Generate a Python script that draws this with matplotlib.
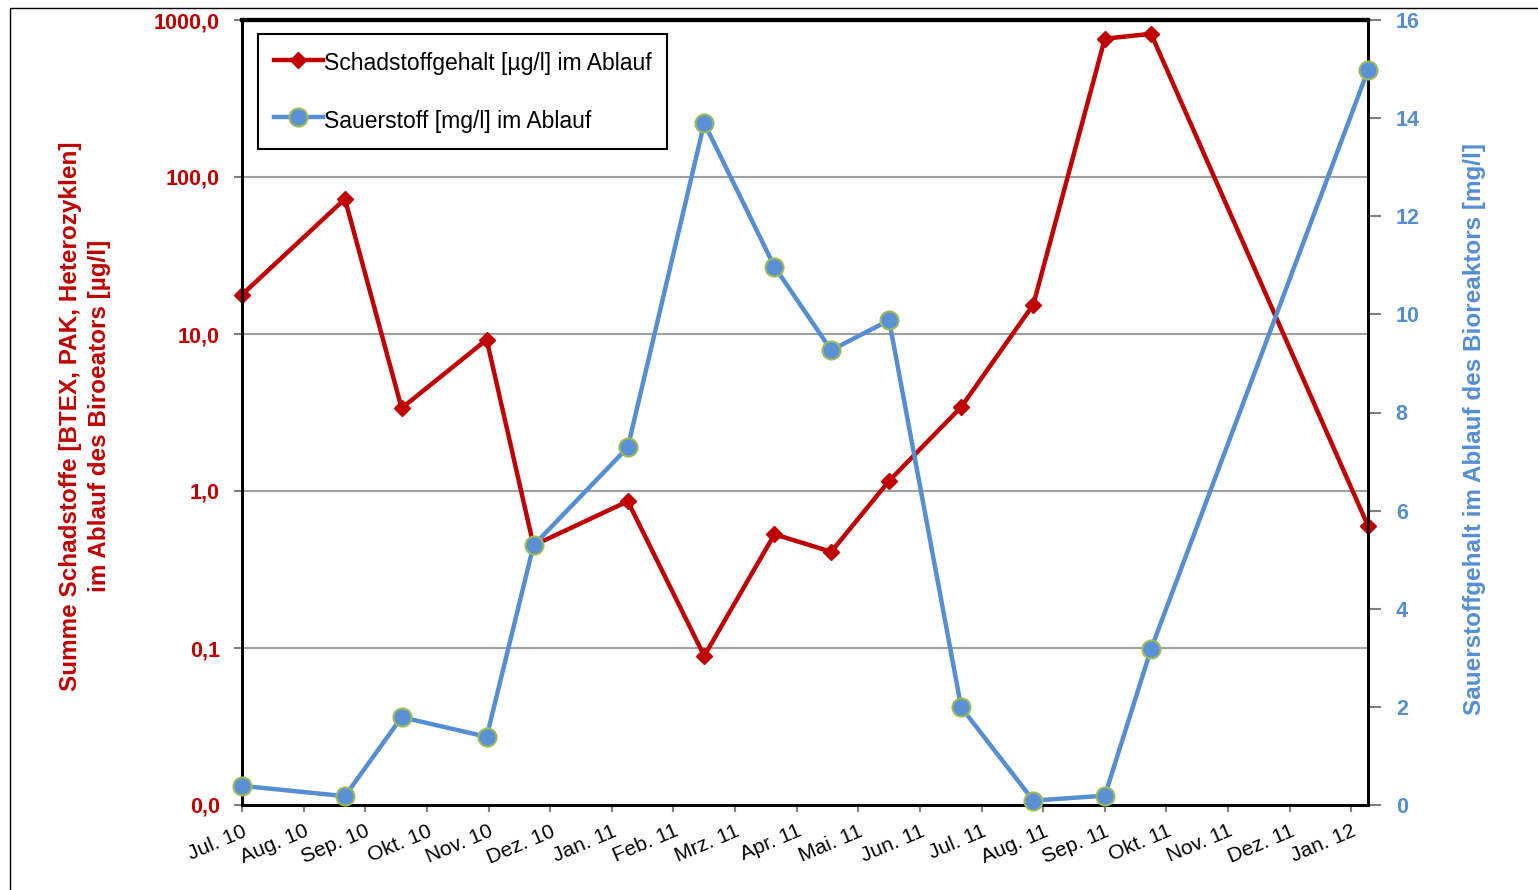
import matplotlib
matplotlib.use('Agg')
import matplotlib.pyplot as plt
from matplotlib.ticker import FixedLocator, NullLocator
from matplotlib.patches import Rectangle

plt.rcParams['font.family'] = ['Liberation Sans', 'DejaVu Sans']

# ---- data ----
# x position in months after Jul. 10 (tick 0 = Jul. 10, tick 18 = Jan. 12)
x_months = [0.0, 1.67, 2.59, 3.97, 4.73, 6.26, 7.50, 8.64, 9.56, 10.50,
            11.67, 12.84, 14.00, 14.75, 18.27]
schadstoff = [17.8, 72.5, 3.37, 9.2, 0.45, 0.86, 0.089, 0.53, 0.41, 1.16,
              3.43, 15.4, 760.0, 817.0, 0.60]
sauerstoff = [0.39, 0.18, 1.79, 1.39, 5.29, 7.29, 13.9, 10.97, 9.27, 9.88,
              1.99, 0.09, 0.19, 3.18, 14.98]

x_labels = ["Jul. 10", "Aug. 10", "Sep. 10", "Okt. 10", "Nov. 10", "Dez. 10",
            "Jan. 11", "Feb. 11", "Mrz. 11", "Apr. 11", "Mai. 11", "Jun. 11",
            "Jul. 11", "Aug. 11", "Sep. 11", "Okt. 11", "Nov. 11", "Dez. 11",
            "Jan. 12"]
left_ticks = [0.01, 0.1, 1, 10, 100, 1000]
left_labels = ["0,0", "0,1", "1,0", "10,0", "100,0", "1000,0"]
right_ticks = [0, 2, 4, 6, 8, 10, 12, 14, 16]

label_red = "Schadstoffgehalt [µg/l] im Ablauf"
label_blue = "Sauerstoff [mg/l] im Ablauf"
ylabel_left = "Summe Schadstoffe [BTEX, PAK, Heterozyklen]\nim Ablauf des Biroeators [µg/l]"
ylabel_right = "Sauerstoffgehalt im Ablauf des Bioreaktors [mg/l]"

RED = '#C00000'
BLUE = '#558ED5'
BLUE_M = '#5B8FD6'
GREEN_E = '#9BBB59'
GRID = '#A0A0A0'
TICK = '#808080'

W, H = 1538, 890
fig = plt.figure(figsize=(W / 100, H / 100), dpi=100)

# outer chart border (left and top visible)
fig.patches.append(Rectangle((10 / W, -0.2), 2.0, 1.2 - 8 / H, transform=fig.transFigure,
                             fill=False, edgecolor='black', linewidth=1.0))

L, R, T, B = 242, 1368, 20, 805
ax = fig.add_axes([L / W, 1 - B / H, (R - L) / W, (B - T) / H])
ax2 = ax.twinx()

# left (log) axis: pollutants
h1, = ax.plot(x_months, schadstoff, color=RED, lw=3.2, marker='D', ms=8,
              mfc=RED, mec=RED, clip_on=False, zorder=3, label=label_red)
ax.set_yscale('log')
ax.set_ylim(0.01, 1000)
ax.yaxis.set_major_locator(FixedLocator(left_ticks))
ax.yaxis.set_minor_locator(NullLocator())
ax.set_yticklabels(left_labels)
ax.set_xlim(0, 18.27)
ax.set_xticks(range(len(x_labels)))
ax.set_xticklabels(x_labels, rotation=23, ha='right', rotation_mode='anchor', fontsize=15)
ax.grid(axis='y', which='major', color=GRID, lw=1.5)
ax.set_axisbelow(True)
ax.tick_params(axis='y', which='major', direction='out', length=6, width=1.5,
               color=TICK, pad=10, labelsize=15.5, labelcolor=RED)
for t in ax.get_yticklabels():
    t.set_fontweight('bold')
ax.tick_params(axis='x', direction='out', length=5, width=1.5, color=TICK, pad=7)

# right axis: oxygen
h2, = ax2.plot(x_months, sauerstoff, color=BLUE, lw=3.2, marker='o', ms=13,
               mfc=BLUE_M, mec=GREEN_E, mew=1.5, clip_on=False, zorder=4, label=label_blue)
ax2.set_ylim(0, 16)
ax2.yaxis.set_major_locator(FixedLocator(right_ticks))
ax2.tick_params(axis='y', direction='out', length=9, width=1.5, color=TICK,
                pad=11, labelsize=15.5, labelcolor=BLUE)
for t in ax2.get_yticklabels():
    t.set_fontweight('bold')

for a in (ax, ax2):
    for s in a.spines.values():
        s.set_color('black')
        s.set_linewidth(2)
    a.spines['top'].set_linewidth(3)

leg = ax2.legend([h1, h2], [label_red, label_blue], loc='upper left',
                 bbox_to_anchor=(16 / (R - L), 1 - 14 / (B - T)), borderaxespad=0,
                 fontsize=16.5, frameon=True, fancybox=False, edgecolor='black',
                 framealpha=1, borderpad=0.68, labelspacing=1.35, handlelength=2.14,
                 handleheight=1.4, handletextpad=0.05)
leg.get_frame().set_linewidth(1.5)

fig.text(85 / W, 1 - 416 / H, ylabel_left, rotation=90, ha='center', va='center',
         multialignment='center', color=RED, fontsize=17.5, fontweight='bold',
         linespacing=1.35)
fig.text(1474 / W, 1 - 429 / H, ylabel_right, rotation=90, ha='center', va='center',
         color=BLUE, fontsize=17.5, fontweight='bold')

fig.savefig('out.png', dpi=100)
